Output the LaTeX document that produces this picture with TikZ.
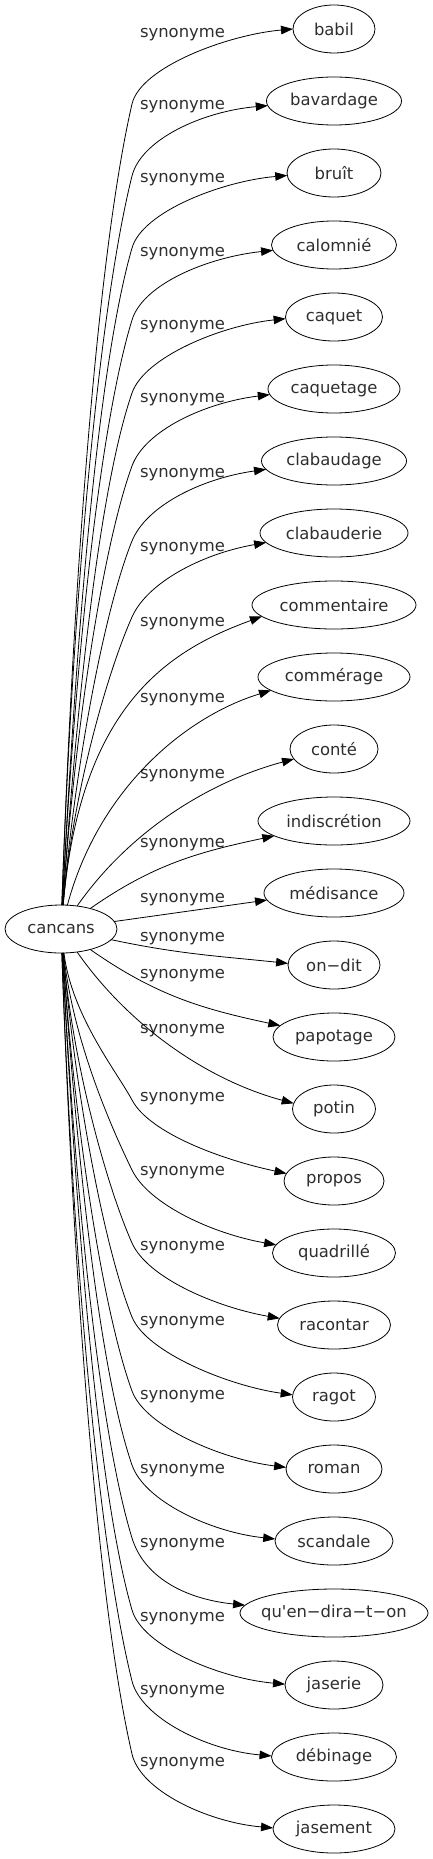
\documentclass[tikz,border=0pt]{standalone}
\usepackage{fontspec}
\setmainfont{DejaVu Sans}
\usetikzlibrary{arrows.meta, positioning, shapes.geometric}
\tikzset{
	every node/.style={
		font=\fontsize{16.4}{19}\selectfont,
		text=black!82,
	},
}
\tikzstyle{word} = [draw, ellipse, line width=0.8pt, minimum height=48pt, inner xsep=0pt, inner ysep=0pt, outer sep=0pt]
\tikzstyle{rel} = [inner sep=0pt]
\tikzstyle{syn} = [line width=0.8pt, -{Triangle[length=12pt,width=8.5pt]}]
\tikzstyle{hook} = [out distance=38pt, in distance=65pt]

\begin{document}
\begin{tikzpicture}[x=1pt, y=1pt]
        \useasboundingbox (0,0) rectangle (433,-1859);
        \node[word, minimum width=112pt] (cancans) at (61,-929) {cancans};
        \node[word, minimum width=82pt] (babil) at (334,-29) {babil};
        \node[word, minimum width=135pt, below=24pt of babil] (bavardage) {bavardage};
        \node[word, minimum width=94pt, below=24pt of bavardage] (bruit) {bruît};
        \node[word, minimum width=125pt, below=24pt of bruit] (calomnie) {calomnié};
        \node[word, minimum width=97pt, below=24pt of calomnie] (caquet) {caquet};
        \node[word, minimum width=132pt, below=24pt of caquet] (caquetage) {caquetage};
        \node[word, minimum width=145pt, below=24pt of caquetage] (clabaudage) {clabaudage};
        \node[word, minimum width=148pt, below=24pt of clabaudage] (clabauderie) {clabauderie};
        \node[word, minimum width=164pt, below=24pt of clabauderie] (commentaire) {commentaire};
        \node[word, minimum width=152pt, below=24pt of commentaire] (commerage) {commérage};
        \node[word, minimum width=88pt, below=24pt of commerage] (conte) {conté};
        \node[word, minimum width=152pt, below=24pt of conte] (indiscretion) {indiscrétion};
        \node[word, minimum width=140pt, below=24pt of indiscretion] (medisance) {médisance};
        \node[word, minimum width=92pt, below=24pt of medisance] (ondit) {on−dit};
        \node[word, minimum width=122pt, below=24pt of ondit] (papotage) {papotage};
        \node[word, minimum width=83pt, below=24pt of papotage] (potin) {potin};
        \node[word, minimum width=100pt, below=24pt of potin] (propos) {propos};
        \node[word, minimum width=123pt, below=24pt of propos] (quadrille) {quadrillé};
        \node[word, minimum width=113pt, below=24pt of quadrille] (racontar) {racontar};
        \node[word, minimum width=83pt, below=24pt of racontar] (ragot) {ragot};
        \node[word, minimum width=96pt, below=24pt of ragot] (roman) {roman};
        \node[word, minimum width=118pt, below=24pt of roman] (scandale) {scandale};
        \node[word, minimum width=188pt, inner xsep=-12pt, below=24pt of scandale] (quen) {qu\textquotesingle en−dira−t−on};
        \node[word, minimum width=98pt, below=24pt of quen] (jaserie) {jaserie};
        \node[word, minimum width=125pt, below=24pt of jaserie] (debinage) {débinage};
        \node[word, minimum width=122pt, below=24pt of debinage] (jasement) {jasement};
        % edge labels
        \node[rel] (s-babil) at (182.5,-35) {synonyme};
        \node[rel] (s-bavardage) at (182.5,-107) {synonyme};
        \node[rel] (s-bruit) at (182.5,-180) {synonyme};
        \node[rel] (s-calomnie) at (182.5,-254) {synonyme};
        \node[rel] (s-caquet) at (182.5,-327) {synonyme};
        \node[rel] (s-caquetage) at (182.5,-400) {synonyme};
        \node[rel] (s-clabaudage) at (182.5,-475) {synonyme};
        \node[rel] (s-clabauderie) at (182.5,-549) {synonyme};
        \node[rel] (s-commentaire) at (182.5,-624) {synonyme};
        \node[rel] (s-commerage) at (182.5,-700) {synonyme};
        \node[rel] (s-conte) at (182.5,-776) {synonyme};
        \node[rel] (s-indiscretion) at (182.5,-845) {synonyme};
        \node[rel] (s-medisance) at (182.5,-900) {synonyme};
        \node[rel] (s-ondit) at (182.5,-939) {synonyme};
        \node[rel] (s-papotage) at (182.5,-976) {synonyme};
        \node[rel] (s-potin) at (182.5,-1031) {synonyme};
        \node[rel] (s-propos) at (182.5,-1099) {synonyme};
        \node[rel] (s-quadrille) at (182.5,-1173) {synonyme};
        \node[rel] (s-racontar) at (182.5,-1248) {synonyme};
        \node[rel] (s-ragot) at (182.5,-1323) {synonyme};
        \node[rel] (s-roman) at (182.5,-1397) {synonyme};
        \node[rel] (s-scandale) at (182.5,-1471) {synonyme};
        \node[rel] (s-quen) at (182.5,-1545) {synonyme};
        \node[rel] (s-jaserie) at (182.5,-1619) {synonyme};
        \node[rel] (s-debinage) at (182.5,-1692) {synonyme};
        \node[rel] (s-jasement) at (182.5,-1764) {synonyme};
        % upper edges
        \draw[syn] (cancans) to[out=88,in=-103,in looseness=.5] (132,-104) to[out=77,in=185,hook] (babil.180);
        \draw[syn] (cancans) to[out=88,in=-104,in looseness=.5] (132,-176) to[out=76,in=185,hook] (bavardage.184);
        \draw[syn] (cancans) to[out=87,in=-106,in looseness=.5] (132,-248) to[out=74,in=185,hook] (bruit.183);
        \draw[syn] (cancans) to[out=87,in=-107,in looseness=.5] (132,-320) to[out=73,in=186,hook] (calomnie.185);
        \draw[syn] (cancans) to[out=86,in=-109,in looseness=.5] (132,-393) to[out=71,in=186,hook] (caquet.182);
        \draw[syn] (cancans) to[out=86,in=-110,in looseness=.5] (132,-466) to[out=70,in=187,hook] (caquetage.185);
        \draw[syn] (cancans) to[out=85,in=-112,in looseness=.5] (132,-541) to[out=68,in=188,hook] (clabaudage.187);
        \draw[syn] (cancans) to[out=85,in=-114,in looseness=.5] (132,-617) to[out=66,in=190,hook] (clabauderie.188);
        \draw[syn] (cancans) to[out=85,in=200,out distance=200pt,in distance=100pt] (commentaire.189);
        \draw[syn] (cancans) to[out=75,in=197,out distance=120pt,in distance=90pt] (commerage.192);
        \draw[syn] (cancans) to[out=55,in=195,out distance=90pt,in distance=90pt] (conte.194);
        \draw[syn] (cancans) to[out=35,in=192] (indiscretion.194);
        \draw[syn] (cancans) to[out=8,in=188] (medisance.186);
        % lower edges
        \draw[syn] (cancans) to[out=-12,in=174] (ondit.178);
        \draw[syn] (cancans) to[out=-35,in=168] (papotage.168);
        \draw[syn] (cancans) to[out=-55,in=165,out distance=90pt,in distance=90pt] (potin.172);
        \draw[syn] (cancans) to[out=-83,in=118,in looseness=.5] (132,-1100) to[out=-62,in=168,hook] (propos.171);
        \draw[syn] (cancans) to[out=-84,in=116,in looseness=.5] (132,-1170) to[out=-64,in=170,hook] (quadrille.172);
        \draw[syn] (cancans) to[out=-85,in=114,in looseness=.5] (132,-1243) to[out=-66,in=170,hook] (racontar.173);
        \draw[syn] (cancans) to[out=-85,in=112,in looseness=.5] (132,-1317) to[out=-68,in=172,hook] (ragot.177);
        \draw[syn] (cancans) to[out=-86,in=110,in looseness=.5] (132,-1391) to[out=-70,in=173,hook] (roman.178);
        \draw[syn] (cancans) to[out=-86,in=109,in looseness=.5] (132,-1465) to[out=-71,in=174,hook] (scandale.178);
        \draw[syn] (cancans) to[out=-87,in=107,in looseness=.5] (132,-1538) to[out=-73,in=174,hook] (quen.175);
        \draw[syn] (cancans) to[out=-87,in=106,in looseness=.5] (132,-1610) to[out=-74,in=175,hook] (jaserie.179);
        \draw[syn] (cancans) to[out=-88,in=104,in looseness=.5] (132,-1681) to[out=-76,in=175,hook] (debinage.179);
        \draw[syn] (cancans) to[out=-88,in=103,in looseness=.5] (132,-1754) to[out=-77,in=175,hook] (jasement.179);
\end{tikzpicture}
\end{document}
